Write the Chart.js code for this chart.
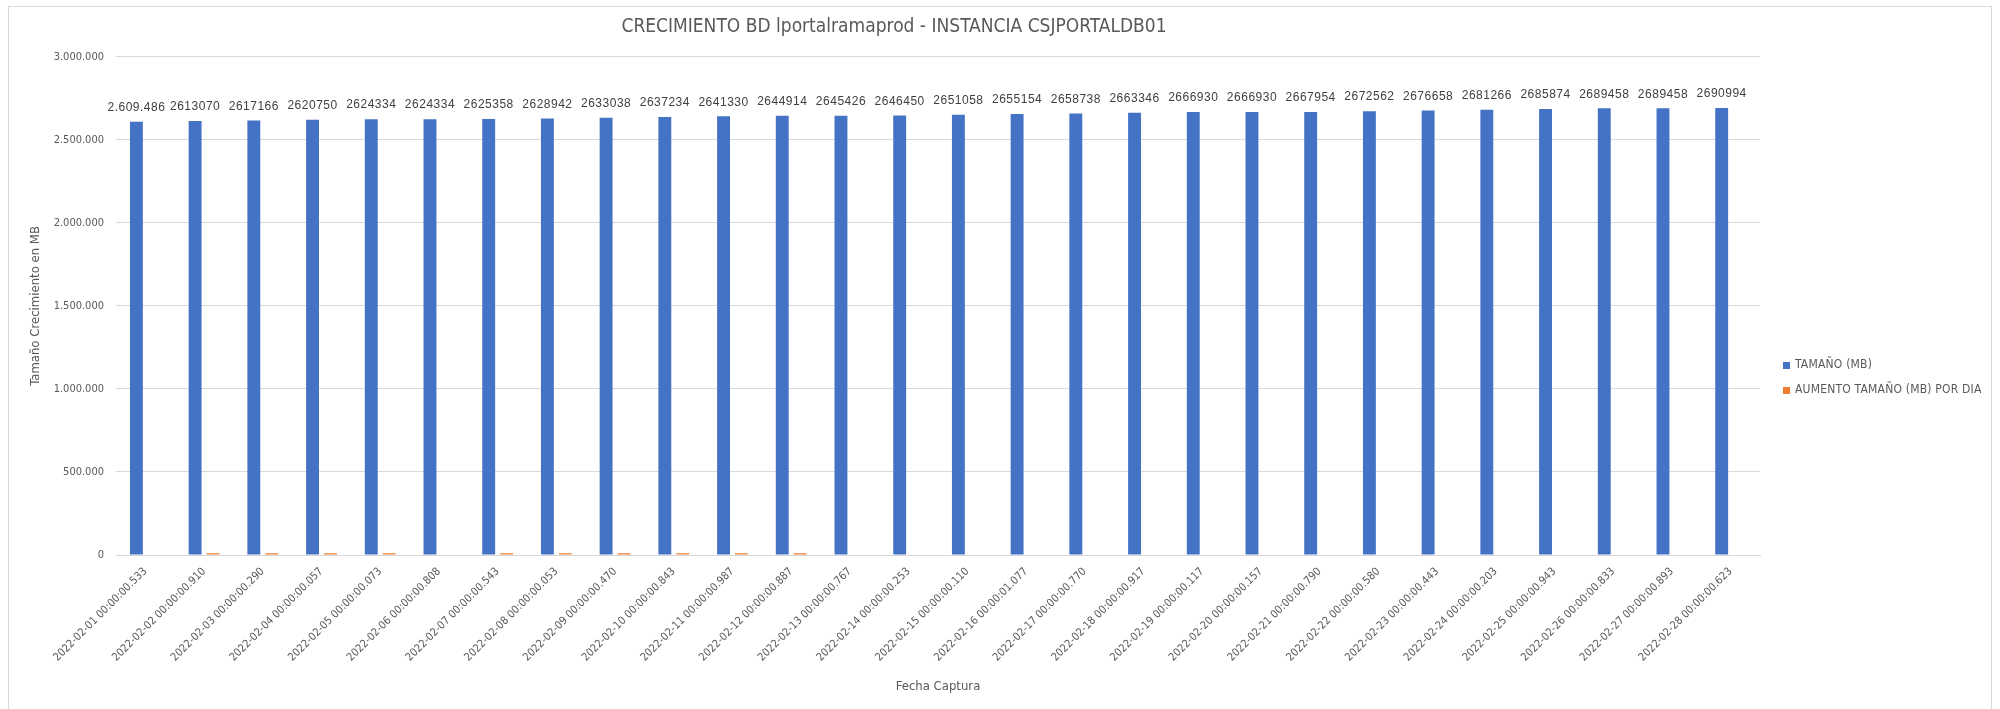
<!DOCTYPE html>
<html>
<head>
<meta charset="utf-8">
<script src="https://cdn.jsdelivr.net/npm/chart.js@4"></script>
<style>
  body { margin: 0; background: #fff; }
  #frame { position: absolute; left: 8px; top: 6px; width: 1984px; height: 720px; border: 1px solid #d9d9d9; box-sizing: border-box; }
  #wrap { position: absolute; left: 0; top: 0; width: 2000px; height: 709px; }
</style>
</head>
<body>
<div id="frame"></div>
<div id="wrap"><canvas id="chartBar" width="2000" height="709"></canvas></div>
<script>
const fechas = [
    '2022-02-01 00:00:00.533', '2022-02-02 00:00:00.910', '2022-02-03 00:00:00.290',
    '2022-02-04 00:00:00.057', '2022-02-05 00:00:00.073', '2022-02-06 00:00:00.808',
    '2022-02-07 00:00:00.543', '2022-02-08 00:00:00.053', '2022-02-09 00:00:00.470',
    '2022-02-10 00:00:00.843', '2022-02-11 00:00:00.987', '2022-02-12 00:00:00.887',
    '2022-02-13 00:00:00.767', '2022-02-14 00:00:00.253', '2022-02-15 00:00:00.110',
    '2022-02-16 00:00:01.077', '2022-02-17 00:00:00.770', '2022-02-18 00:00:00.917',
    '2022-02-19 00:00:00.117', '2022-02-20 00:00:00.157', '2022-02-21 00:00:00.790',
    '2022-02-22 00:00:00.580', '2022-02-23 00:00:00.443', '2022-02-24 00:00:00.203',
    '2022-02-25 00:00:00.943', '2022-02-26 00:00:00.833', '2022-02-27 00:00:00.893',
    '2022-02-28 00:00:00.623'
];

const tamano = [
    2609486, 2613070, 2617166, 2620750, 2624334, 2624334, 2625358, 2628942, 2633038,
    2637234, 2641330, 2644914, 2645426, 2646450, 2651058, 2655154, 2658738, 2663346,
    2666930, 2666930, 2667954, 2672562, 2676658, 2681266, 2685874, 2689458, 2689458,
    2690994
];

// aumento por dia: barras apenas visibles (~2px) en la imagen
const aumento = [
    0, 10000, 10000, 10000, 10000, 0, 10000, 10000, 10000, 10000, 10000, 10000,
    0, 0, 0, 0, 0, 0, 0, 0, 0, 0, 0, 0, 0, 0, 0, 0
];

const yTicks = [0, 500000, 1000000, 1500000, 2000000, 2500000, 3000000];

const FONT = "'Liberation Sans Narrow', 'DejaVu Sans Condensed', sans-serif";
const FONT_ANCHO = "'Liberation Sans', Arial, sans-serif";
const GRIS = '#595959';

function puntos(v) {
    return String(v).replace(/\B(?=(\d{3})+(?!\d))/g, '.');
}

const etiquetasPlugin = {
    id: 'etiquetas',
    afterDatasetsDraw(chart) {
        const ctx = chart.ctx;
        const meta = chart.getDatasetMeta(0);
        ctx.save();
        ctx.font = '12px ' + FONT_ANCHO;
        ctx.letterSpacing = '0.5px';
        ctx.fillStyle = '#404040';
        ctx.textAlign = 'center';
        ctx.textBaseline = 'bottom';
        meta.data.forEach(function(bar, i) {
            const v = tamano[i];
            const txt = i === 0 ? puntos(v) : String(v);
            ctx.fillText(txt, bar.x, bar.y - 8);
        });
        ctx.restore();
    }
};

const leyendaPlugin = {
    id: 'leyenda',
    afterDraw(chart) {
        const ctx = chart.ctx;
        ctx.save();
        ctx.font = '12px ' + FONT;
        ctx.letterSpacing = '0.2px';
        ctx.textBaseline = 'middle';
        chart.data.datasets.forEach(function(ds, i) {
            const y = 365 + i * 25;
            ctx.fillStyle = ds.backgroundColor;
            ctx.fillRect(1783, y - 3, 7, 7);
            ctx.fillStyle = GRIS;
            ctx.fillText(ds.label, 1795, y);
        });
        ctx.restore();
    }
};

const contextBar = document.getElementById('chartBar');

const dataContentBar = {
    labels: fechas,
    datasets: [{
        label: 'TAMAÑO (MB)',
        data: tamano,
        backgroundColor: '#4472C4',
        barPercentage: 0.72,
        categoryPercentage: 0.61,
    }, {
        label: 'AUMENTO TAMAÑO (MB) POR DIA',
        data: aumento,
        backgroundColor: '#ED7D31',
        barPercentage: 0.72,
        categoryPercentage: 0.61,
    }]
};

const configBar = {
    type: 'bar',
    data: dataContentBar,
    options: {
        responsive: false,
        animation: false,
        layout: { padding: { left: 28, right: 240, top: 0, bottom: 15 } },
        plugins: {
            legend: { display: false },
            tooltip: { enabled: false },
            title: {
                display: true,
                text: 'CRECIMIENTO BD lportalramaprod - INSTANCIA CSJPORTALDB01',
                color: GRIS,
                font: { family: FONT, size: 19, weight: 'normal' },
                padding: { top: 16, bottom: 18 }
            }
        },
        scales: {
            x: {
                grid: { display: false },
                border: { color: '#d9d9d9', width: 1 },
                ticks: {
                    color: GRIS,
                    font: { family: FONT, size: 11 },
                    maxRotation: 45,
                    minRotation: 45,
                    autoSkip: false,
                    padding: 2
                },
                title: {
                    display: true,
                    text: 'Fecha Captura',
                    color: GRIS,
                    font: { family: FONT, size: 13 },
                    padding: { top: 4, bottom: 0 }
                },
                afterFit: function(scale) { scale.height = 139; }
            },
            y: {
                min: 0,
                max: 3000000,
                afterBuildTicks: function(scale) {
                    scale.ticks = yTicks.map(function(v) { return { value: v }; });
                },
                grid: { color: '#d9d9d9', drawTicks: false },
                border: { display: false },
                ticks: {
                    color: GRIS,
                    font: { family: FONT, size: 11 },
                    padding: 12,
                    callback: function(value) { return puntos(value); }
                },
                title: {
                    display: true,
                    text: 'Tamaño Crecimiento en MB',
                    color: GRIS,
                    font: { family: FONT, size: 13 },
                    padding: { top: 0, bottom: 8 }
                },
                afterFit: function(scale) { scale.width = 88; }
            }
        }
    },
    plugins: [etiquetasPlugin, leyendaPlugin]
};

const CharBar = new Chart(contextBar, configBar);
</script>
</body>
</html>
